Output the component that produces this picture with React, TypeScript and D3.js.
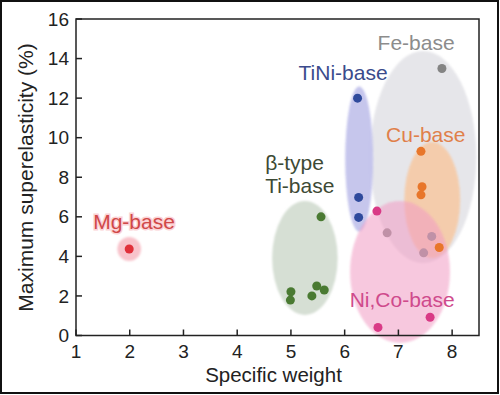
import React from "react";
import * as d3 from "d3";

// ---- data ----
const feX = [7.81, 6.79, 7.62, 7.47];
const feY = [13.5, 5.19, 5.01, 4.18];
const tiniX = [6.24, 6.26, 6.26];
const tiniY = [12.0, 6.98, 5.97];
const cuX = [7.42, 7.44, 7.42, 7.76];
const cuY = [9.31, 7.52, 7.11, 4.45];
const tiX = [5.56, 5.0, 4.99, 5.48, 5.62, 5.39];
const tiY = [6.0, 2.21, 1.79, 2.5, 2.3, 2.0];
const nicoX = [6.6, 7.59, 6.62];
const nicoY = [6.29, 0.92, 0.41];
const mgX = [1.99];
const mgY = [4.37];

// group regions (centre x, centre y, half-width, half-height in data units)
const groupNames = ["Fe", "TiNi", "Cu", "NiCo", "Ti", "Mg"];
const regionCx = [7.46, 6.27, 7.63, 7.03, 5.26, 1.99];
const regionCy = [9.02, 8.92, 6.85, 3.21, 3.92, 4.37];
const regionRx = [0.99, 0.26, 0.52, 0.93, 0.61, 0.22];
const regionRy = [5.36, 3.67, 2.93, 3.59, 2.88, 0.61];

const xTicks = [1, 2, 3, 4, 5, 6, 7, 8];
const yTicks = [0, 2, 4, 6, 8, 10, 12, 14, 16];

const labelTexts = ["Fe-base", "TiNi-base", "Cu-base", "β-type", "Ti-base", "Mg-base", "Ni,Co-base"];
const labelX = [7.33, 5.97, 7.51, 4.52, 4.52, 2.08, 7.07];
const labelY = [14.43, 12.92, 9.78, 8.37, 7.2, 5.38, 1.44];

const W = 500, H = 395;
const L = 76, R = 479, T = 19, B = 335.5;

export default function App() {
  const x = d3.scaleLinear().domain([1, 8.5]).range([L, R]);
  const y = d3.scaleLinear().domain([0, 16]).range([B, T]);
  const font = "'Liberation Sans', Arial, sans-serif";

  const ellipse = (i: number, fill: string, opacity = 1) => (
    <ellipse
      key={"e" + groupNames[i]}
      cx={x(regionCx[i])}
      cy={y(regionCy[i])}
      rx={x(regionCx[i] + regionRx[i]) - x(regionCx[i])}
      ry={y(regionCy[i] - regionRy[i]) - y(regionCy[i])}
      fill={fill}
      opacity={opacity}
      filter="url(#soft)"
    />
  );
  const dots = (xs: number[], ys: number[], color: string, key: string) =>
    xs.map((v, i) => (
      <circle key={key + i} cx={x(v)} cy={y(ys[i])} r={4.5} fill={color} />
    ));

  const labelColors = ["#8c8c8c", "#3b4b8c", "#e0804a", "#3d4a35", "#3d4a35", "#d04848", "#cf4a8c"];
  const labelAnchor = ["middle", "middle", "middle", "start", "start", "middle", "middle"];

  return (
    <div style={{ position: "absolute", left: 0, top: 0 }}>
      <svg width={W} height={H} style={{ display: "block", fontFamily: font }}>
        <defs>
          <filter id="soft" x="-20%" y="-20%" width="140%" height="140%">
            <feGaussianBlur stdDeviation={1.2} />
          </filter>
        </defs>
        <rect x={0} y={0} width={W} height={H} fill="#fff" />
        {/* regions */}
        {ellipse(0, "#e6e6ea")}
        {ellipse(1, "#c3c3ec", 0.95)}
        {ellipse(2, "#f6caa6", 0.9)}
        {dots(feX, feY, "#848484", "fe")}
        {ellipse(3, "#f29cc4", 0.55)}
        {ellipse(4, "#d6dfd4")}
        {ellipse(5, "#f8c3cb")}
        {dots(tiniX, tiniY, "#2f4a9c", "tn")}
        {dots(cuX, cuY, "#e8762a", "cu")}
        {dots(nicoX, nicoY, "#d93a86", "nc")}
        {dots(tiX, tiY, "#4a7a32", "ti")}
        {dots(mgX, mgY, "#e0303a", "mg")}

        {/* frame */}
        <rect x={L} y={T} width={R - L} height={B - T} fill="none" stroke="#222" strokeWidth={1.5} />
        {xTicks.map((t) => (
          <g key={"xt" + t}>
            <line x1={x(t)} x2={x(t)} y1={B} y2={B - 6} stroke="#222" strokeWidth={1.5} />
            <text x={x(t)} y={358} textAnchor="middle" fontSize={19} fill="#222">{t}</text>
          </g>
        ))}
        {yTicks.map((t) => (
          <g key={"yt" + t}>
            <line x1={L} x2={L + 6} y1={y(t)} y2={y(t)} stroke="#222" strokeWidth={1.5} />
            <text x={69} y={y(t)} dy="0.35em" textAnchor="end" fontSize={19} fill="#222">{t}</text>
          </g>
        ))}
        <text x={(L + R) / 2 - 4} y={382} textAnchor="middle" fontSize={20.5} fill="#222">Specific weight</text>
        <text transform={`translate(33,${177.5}) rotate(-90)`} textAnchor="middle" fontSize={21} fill="#222">
          Maximum superelasticity (%)
        </text>

        {/* labels */}
        {labelTexts.map((s, i) => (
          <text
            key={"l" + i}
            x={x(labelX[i])}
            y={y(labelY[i])}
            textAnchor={labelAnchor[i] as any}
            fontSize={21}
            fill={labelColors[i]}
            stroke={i === 5 ? "#fbd3d6" : "none"}
            strokeWidth={i === 5 ? 3 : 0}
            style={{ paintOrder: "stroke" }}
          >
            {s}
          </text>
        ))}

        {/* outer border */}
        <rect x={1} y={1} width={W - 3} height={H - 3} fill="none" stroke="#111" strokeWidth={2} />
      </svg>
    </div>
  );
}
